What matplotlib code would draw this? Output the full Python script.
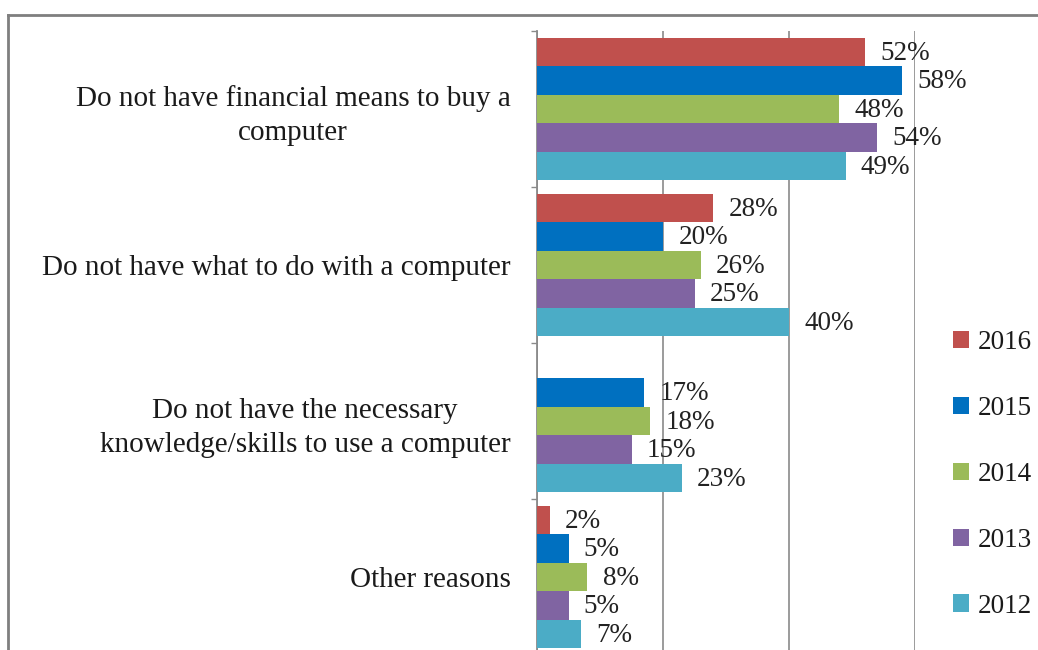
import numpy as np
import matplotlib
matplotlib.use("Agg")
import matplotlib.pyplot as plt
from matplotlib.patches import Patch
from matplotlib.lines import Line2D

plt.rcParams['font.family'] = ['Liberation Serif', 'DejaVu Serif']

categories = [
    "Do not have financial means to buy a\ncomputer",
    "Do not have what to do with a computer",
    "Do not have the necessary\nknowledge/skills to use a computer",
    "Other reasons",
]
years = ["2016", "2015", "2014", "2013", "2012"]
values_2016 = [52, 28, np.nan, 2]
values_2015 = [58, 20, 17, 5]
values_2014 = [48, 26, 18, 8]
values_2013 = [54, 25, 15, 5]
values_2012 = [49, 40, 23, 7]
series = [values_2016, values_2015, values_2014, values_2013, values_2012]
colors = ["#C0504D", "#0070C0", "#9BBB59", "#8064A2", "#4BACC6"]

W, H = 1038, 650
fig = plt.figure(figsize=(W / 100, H / 100), dpi=100)
fig.patch.set_facecolor("white")

# plot area in pixel coordinates
left_px, right_px, top_px, bottom_px = 537, 915, 31, 655
ax = fig.add_axes([left_px / W, 1 - bottom_px / H,
                   (right_px - left_px) / W, (bottom_px - top_px) / H])

label_fs = 21
value_fs = 19.5
bar_h = 0.183
centers = np.arange(len(categories)) + 0.5

for j, (vals, col) in enumerate(zip(series, colors)):
    y = centers + (j - 2) * bar_h
    v = np.array(vals, dtype=float)
    ax.barh(y, np.nan_to_num(v), height=bar_h, color=col, edgecolor="none", zorder=3)
    for yy, vv in zip(y, v):
        if np.isnan(vv):
            continue
        ax.annotate(f"{vv:.0f}%", xy=(vv, yy), xytext=(11, -1),
                    textcoords="offset points", ha="left", va="center",
                    fontsize=value_fs, color="#222222", zorder=4)

ax.set_xlim(0, 60)
ax.set_ylim(4, 0)

ax.set_xticks([0, 20, 40, 60])
ax.tick_params(axis="x", length=0, labelbottom=False)
ax.grid(axis="x", color="#8A8A8A", linewidth=1.2, zorder=1)

ax.set_yticks(np.arange(0, 5))
ax.set_yticklabels([])
ax.set_yticks(centers, minor=True)
ax.set_yticklabels(categories, minor=True, fontsize=label_fs, color="#1a1a1a",
                   ha="right", multialignment="center", linespacing=1.4)
ax.tick_params(axis="y", which="major", length=4, color="#8A8A8A", width=1)
ax.tick_params(axis="y", which="minor", length=0, pad=19)

for s in ["top", "right", "bottom"]:
    ax.spines[s].set_visible(False)
ax.spines["left"].set_color("#8A8A8A")
ax.spines["left"].set_linewidth(1.3)
ax.set_facecolor("none")

handles = [Patch(facecolor=c, edgecolor="none") for c in colors]
leg = fig.legend(handles, years, loc="upper left",
                 bbox_to_anchor=(953 / W, 1 - 330 / H),
                 frameon=False, fontsize=value_fs, handlelength=0.6, handleheight=0.6,
                 handletextpad=0.3, labelspacing=1.51, borderaxespad=0,
                 borderpad=0)
for t in leg.get_texts():
    t.set_color("#1a1a1a")

# outer frame edges
fig.add_artist(Line2D([8 / W, 1.0], [1 - 15 / H, 1 - 15 / H],
                      color="#7F7F7F", linewidth=2, transform=fig.transFigure))
fig.add_artist(Line2D([8 / W, 8 / W], [0, 1 - 15 / H],
                      color="#7F7F7F", linewidth=2, transform=fig.transFigure))

fig.savefig("out.png", dpi=100, facecolor="white")
